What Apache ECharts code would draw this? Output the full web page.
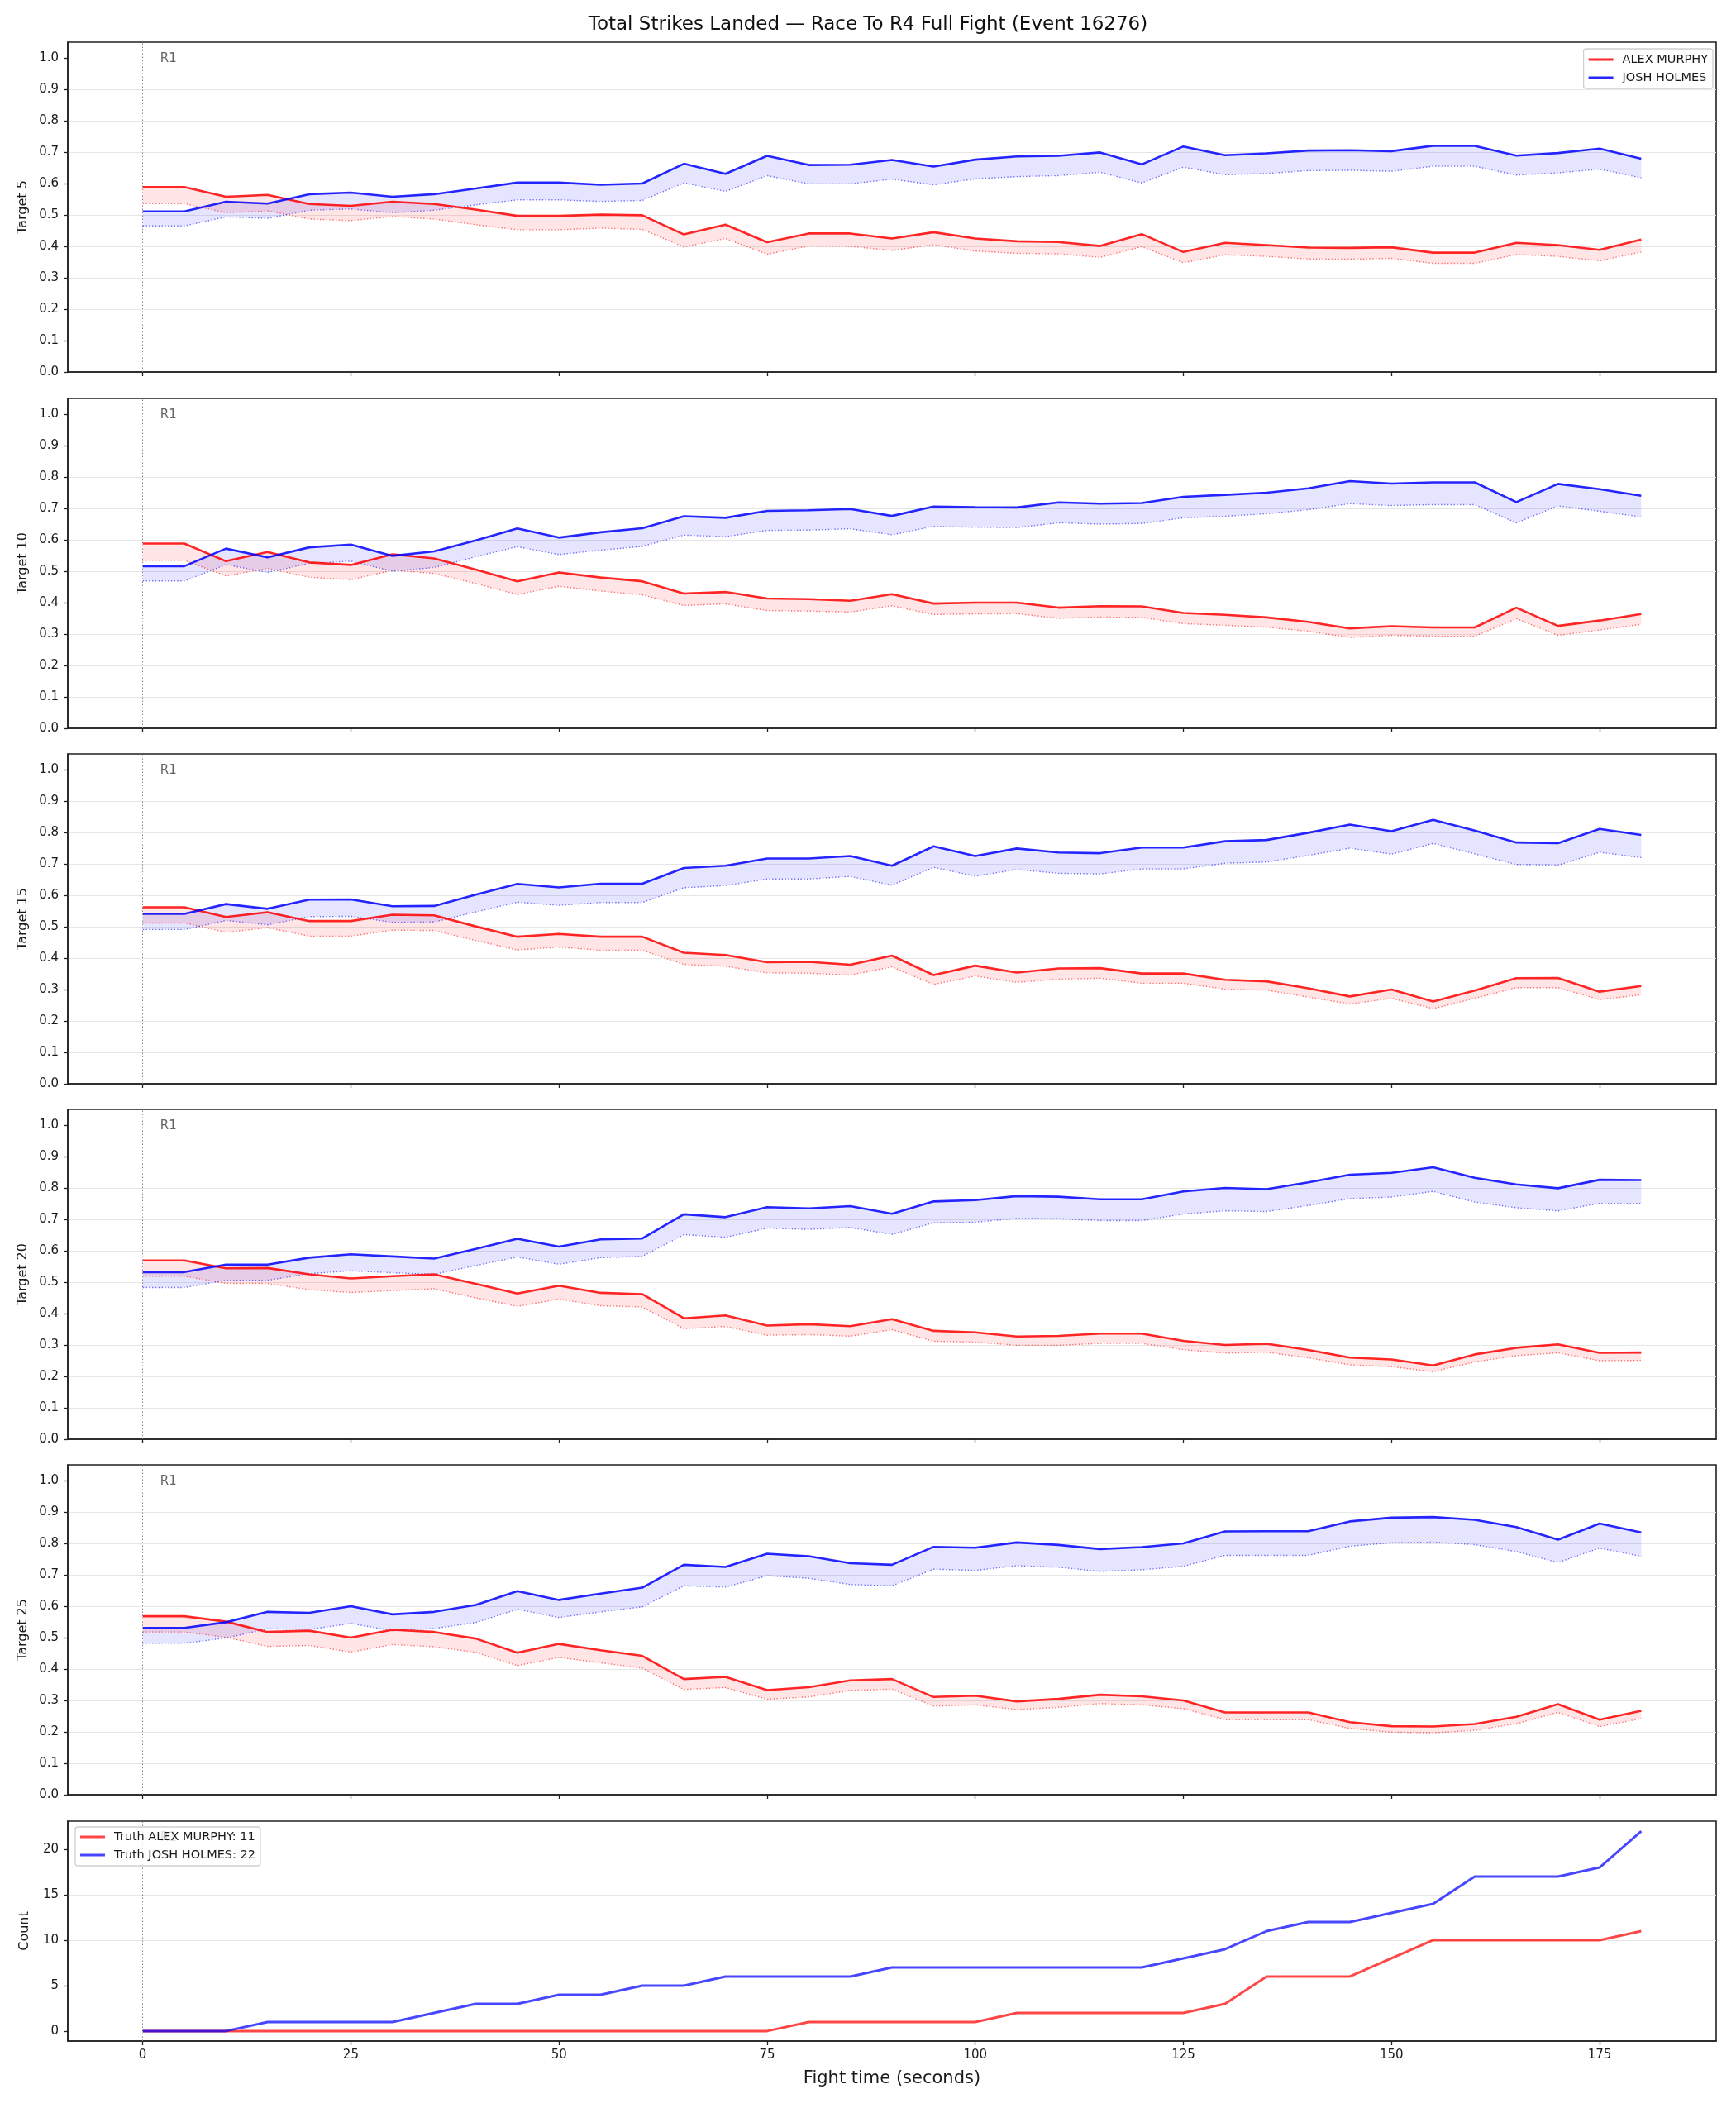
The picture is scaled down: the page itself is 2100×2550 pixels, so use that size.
<!DOCTYPE html>
<html>
<head>
<meta charset="utf-8">
<title>Total Strikes Landed</title>
<script src="https://cdn.jsdelivr.net/npm/echarts@6/dist/echarts.min.js"></script>
<style>
  html, body { margin: 0; padding: 0; background: #fff; }
  #main { width: 2100px; height: 2550px; }
</style>
</head>
<body>
<div id="main"></div>
<script>
// fight time axis (seconds), one sample every 5 s
var times = [0,5,10,15,20,25,30,35,40,45,50,55,60,65,70,75,80,85,90,95,100,105,110,115,120,125,130,135,140,145,150,155,160,165,170,175,180];
var xTicks = [0,25,50,75,100,125,150,175];
var probTicks = [0,0.1,0.2,0.3,0.4,0.5,0.6,0.7,0.8,0.9,1.0];
var countTicks = [0,5,10,15,20];
var roundStarts = [0];
var roundNames = ['R1'];

// Target 5
var t5MurphyMean = [0.589,0.589,0.558,0.564,0.535,0.529,0.542,0.535,0.517,0.497,0.497,0.501,0.499,0.438,0.469,0.413,0.441,0.441,0.425,0.445,0.425,0.416,0.414,0.401,0.439,0.382,0.411,0.404,0.396,0.395,0.397,0.380,0.380,0.411,0.404,0.389,0.422];
var t5MurphyLow  = [0.536,0.536,0.507,0.513,0.487,0.482,0.495,0.487,0.469,0.453,0.453,0.458,0.454,0.398,0.425,0.375,0.401,0.400,0.387,0.405,0.385,0.378,0.376,0.365,0.399,0.348,0.373,0.368,0.360,0.359,0.362,0.346,0.346,0.374,0.368,0.354,0.382];
var t5HolmesMean = [0.511,0.511,0.542,0.536,0.566,0.571,0.558,0.566,0.584,0.603,0.603,0.596,0.600,0.663,0.631,0.688,0.659,0.660,0.675,0.654,0.676,0.686,0.688,0.699,0.661,0.718,0.690,0.696,0.705,0.706,0.703,0.720,0.720,0.689,0.697,0.711,0.679];
var t5HolmesLow  = [0.465,0.465,0.494,0.489,0.515,0.519,0.507,0.515,0.532,0.548,0.548,0.543,0.546,0.602,0.575,0.625,0.599,0.599,0.614,0.596,0.615,0.622,0.625,0.636,0.602,0.652,0.628,0.632,0.641,0.642,0.639,0.655,0.655,0.627,0.634,0.646,0.618];

// Target 10
var t10MurphyMean = [0.588,0.588,0.532,0.561,0.528,0.520,0.554,0.541,0.505,0.468,0.496,0.480,0.468,0.429,0.434,0.413,0.411,0.406,0.427,0.397,0.400,0.400,0.384,0.389,0.388,0.367,0.361,0.353,0.339,0.318,0.325,0.321,0.321,0.384,0.326,0.343,0.364];
var t10MurphyLow  = [0.535,0.535,0.485,0.509,0.481,0.473,0.503,0.493,0.461,0.426,0.452,0.437,0.425,0.391,0.396,0.375,0.373,0.370,0.390,0.362,0.364,0.365,0.350,0.354,0.353,0.333,0.328,0.322,0.309,0.289,0.296,0.293,0.293,0.349,0.296,0.313,0.331];
var t10HolmesMean = [0.516,0.516,0.572,0.544,0.576,0.585,0.549,0.563,0.598,0.636,0.607,0.624,0.637,0.675,0.670,0.692,0.694,0.698,0.676,0.706,0.704,0.703,0.719,0.715,0.717,0.737,0.743,0.750,0.764,0.787,0.779,0.783,0.783,0.720,0.778,0.761,0.740];
var t10HolmesLow  = [0.469,0.469,0.521,0.496,0.525,0.532,0.500,0.512,0.546,0.578,0.553,0.567,0.579,0.615,0.610,0.630,0.631,0.635,0.616,0.643,0.640,0.639,0.654,0.650,0.652,0.670,0.675,0.683,0.696,0.715,0.709,0.712,0.712,0.654,0.708,0.691,0.673];

// Target 15
var t15MurphyMean = [0.562,0.562,0.531,0.546,0.518,0.518,0.538,0.536,0.501,0.468,0.477,0.468,0.468,0.417,0.410,0.387,0.388,0.379,0.408,0.346,0.376,0.354,0.367,0.368,0.351,0.351,0.331,0.326,0.304,0.278,0.300,0.262,0.297,0.336,0.337,0.293,0.311];
var t15MurphyLow  = [0.512,0.512,0.482,0.497,0.470,0.470,0.489,0.488,0.456,0.426,0.435,0.425,0.425,0.380,0.374,0.353,0.352,0.346,0.372,0.316,0.343,0.323,0.333,0.336,0.320,0.320,0.301,0.298,0.276,0.254,0.272,0.239,0.272,0.306,0.306,0.268,0.283];
var t15HolmesMean = [0.541,0.541,0.572,0.557,0.586,0.587,0.565,0.566,0.602,0.636,0.625,0.637,0.637,0.687,0.694,0.717,0.717,0.725,0.694,0.756,0.725,0.749,0.736,0.734,0.752,0.752,0.772,0.776,0.799,0.825,0.804,0.840,0.806,0.768,0.766,0.811,0.792];
var t15HolmesLow  = [0.491,0.491,0.520,0.506,0.532,0.533,0.514,0.515,0.547,0.578,0.568,0.577,0.577,0.624,0.631,0.652,0.652,0.660,0.632,0.689,0.661,0.682,0.670,0.668,0.684,0.684,0.702,0.706,0.727,0.750,0.731,0.765,0.732,0.698,0.696,0.737,0.720];

// Target 20
var t20MurphyMean = [0.569,0.569,0.544,0.545,0.525,0.512,0.519,0.525,0.495,0.464,0.489,0.466,0.462,0.385,0.394,0.362,0.366,0.360,0.382,0.345,0.340,0.327,0.329,0.336,0.336,0.313,0.300,0.304,0.284,0.260,0.254,0.235,0.270,0.291,0.302,0.275,0.276];
var t20MurphyLow  = [0.519,0.519,0.496,0.496,0.476,0.467,0.473,0.479,0.450,0.423,0.446,0.425,0.421,0.352,0.359,0.331,0.333,0.328,0.349,0.312,0.309,0.299,0.299,0.305,0.305,0.285,0.274,0.277,0.259,0.237,0.231,0.215,0.246,0.266,0.275,0.250,0.251];
var t20HolmesMean = [0.532,0.532,0.556,0.556,0.578,0.589,0.582,0.575,0.606,0.638,0.613,0.636,0.639,0.716,0.707,0.739,0.735,0.742,0.718,0.757,0.761,0.774,0.772,0.764,0.764,0.789,0.800,0.796,0.818,0.842,0.848,0.866,0.832,0.811,0.799,0.826,0.825];
var t20HolmesLow  = [0.483,0.483,0.506,0.506,0.527,0.536,0.530,0.525,0.553,0.580,0.557,0.578,0.582,0.651,0.643,0.672,0.668,0.674,0.652,0.689,0.691,0.703,0.702,0.696,0.696,0.717,0.727,0.725,0.744,0.766,0.771,0.789,0.755,0.737,0.727,0.751,0.751];

// Target 25
var t25MurphyMean = [0.568,0.568,0.551,0.518,0.522,0.500,0.525,0.518,0.497,0.452,0.480,0.460,0.442,0.368,0.375,0.333,0.342,0.364,0.368,0.311,0.315,0.297,0.305,0.318,0.313,0.300,0.262,0.262,0.262,0.231,0.218,0.217,0.225,0.248,0.288,0.239,0.267];
var t25MurphyLow  = [0.518,0.518,0.501,0.472,0.475,0.454,0.478,0.471,0.453,0.411,0.437,0.420,0.403,0.335,0.341,0.304,0.311,0.332,0.336,0.282,0.286,0.271,0.278,0.290,0.286,0.274,0.239,0.239,0.239,0.211,0.199,0.197,0.205,0.226,0.262,0.217,0.242];
var t25HolmesMean = [0.531,0.531,0.549,0.582,0.579,0.600,0.574,0.582,0.604,0.648,0.620,0.640,0.659,0.732,0.725,0.767,0.759,0.737,0.732,0.789,0.786,0.803,0.795,0.782,0.788,0.800,0.838,0.839,0.839,0.870,0.882,0.884,0.875,0.852,0.812,0.863,0.835];
var t25HolmesLow  = [0.482,0.482,0.499,0.528,0.526,0.545,0.522,0.529,0.548,0.590,0.564,0.582,0.598,0.665,0.661,0.697,0.689,0.669,0.665,0.718,0.714,0.729,0.724,0.711,0.716,0.727,0.762,0.762,0.762,0.791,0.802,0.804,0.796,0.774,0.739,0.785,0.759];

// truth: cumulative landed strikes
var truthMurphy = [0,0,0,0,0,0,0,0,0,0,0,0,0,0,0,0,1,1,1,1,1,2,2,2,2,2,3,6,6,6,8,10,10,10,10,10,11];
var truthHolmes = [0,0,0,1,1,1,1,2,3,3,4,4,5,5,6,6,6,6,7,7,7,7,7,7,7,8,9,11,12,12,13,14,17,17,17,18,22];

var panels = [
  { label: 'Target 5',  murphy: [t5MurphyMean, t5MurphyLow],   holmes: [t5HolmesMean, t5HolmesLow] },
  { label: 'Target 10', murphy: [t10MurphyMean, t10MurphyLow], holmes: [t10HolmesMean, t10HolmesLow] },
  { label: 'Target 15', murphy: [t15MurphyMean, t15MurphyLow], holmes: [t15HolmesMean, t15HolmesLow] },
  { label: 'Target 20', murphy: [t20MurphyMean, t20MurphyLow], holmes: [t20HolmesMean, t20HolmesLow] },
  { label: 'Target 25', murphy: [t25MurphyMean, t25MurphyLow], holmes: [t25HolmesMean, t25HolmesLow] }
];

var RED = 'rgba(255,0,0,0.85)', BLUE = 'rgba(0,0,255,0.85)';
var RED_DOT = 'rgba(255,0,0,0.55)', BLUE_DOT = 'rgba(0,0,255,0.55)';
var RED_FILL = 'rgba(255,0,0,0.1)', BLUE_FILL = 'rgba(0,0,255,0.1)';
var INK = '#1a1a1a';
var FONT = 'DejaVu Sans';

var gridLeft = 82, gridRight = 24;
var panelTops = [51, 482, 912, 1342, 1772], panelHeight = 399;
var countTop = 2203, countHeight = 266;
var xMin = -9, xMax = 189;
var probMax = 1.05, countMin = -1.1, countMax = 23.1;

function pairs(arr) {
  return times.map(function (t, k) { return [t, arr[k]]; });
}

// filled band between the mean line and the lower dotted line
function band(name, gi, hi, lo, color) {
  return {
    name: name, type: 'custom', xAxisIndex: gi, yAxisIndex: gi, silent: true, z: 1,
    data: times.map(function (t, k) { return [t, hi[k], lo[k]]; }),
    encode: { x: 0, y: [1, 2] },
    renderItem: function (params, api) {
      if (params.dataIndex !== 0) return;
      var top = [], bottom = [];
      for (var k = 0; k < times.length; k++) {
        top.push(api.coord([times[k], hi[k]]));
        bottom.unshift(api.coord([times[k], lo[k]]));
      }
      return { type: 'polygon', shape: { points: top.concat(bottom) }, style: { fill: color } };
    }
  };
}

function line(name, gi, arr, color, width, dotted, z) {
  return {
    name: name, type: 'line', xAxisIndex: gi, yAxisIndex: gi, data: pairs(arr),
    showSymbol: false, symbol: 'none', z: z, silent: true,
    itemStyle: { color: color },
    lineStyle: { color: color, width: width, type: dotted ? [1.4, 2.4] : 'solid' }
  };
}

// round marker: dotted vertical line + "R1" text
function roundMarks(s, labelY) {
  s.markLine = {
    silent: true, symbol: ['none', 'none'], label: { show: false },
    lineStyle: { color: '#888', width: 1, type: [1.5, 2.5] },
    data: roundStarts.map(function (r) { return { xAxis: r }; })
  };
  s.markPoint = {
    silent: true,
    data: roundStarts.map(function (r, k) {
      return {
        coord: [r + 2, labelY], symbol: 'circle', symbolSize: 2,
        itemStyle: { color: 'rgba(0,0,0,0)' },
        label: { show: true, formatter: roundNames[k], position: 'right', distance: 0,
                 color: '#666', fontSize: 15, fontFamily: FONT }
      };
    })
  };
  return s;
}

var grids = [], xAxes = [], yAxes = [], series = [];

function addAxes(gi, top, height, isLast) {
  grids.push({ left: gridLeft, right: gridRight, top: top, height: height,
               show: true, borderColor: '#222', borderWidth: 1.6, backgroundColor: '#fff' });
  xAxes.push({
    gridIndex: gi, type: 'value', min: xMin, max: xMax,
    axisLine: { show: true, onZero: false, lineStyle: { color: '#222', width: 1.6 } },
    axisTick: { show: true, customValues: xTicks, length: 5, lineStyle: { color: '#222', width: 1.3 } },
    axisLabel: { show: isLast, customValues: xTicks, margin: 10, fontSize: 15, color: INK, fontFamily: FONT },
    splitLine: { show: false },
    name: isLast ? 'Fight time (seconds)' : '', nameLocation: 'middle', nameGap: 35,
    nameTextStyle: { fontSize: 21, color: INK, fontFamily: FONT }
  });
}

panels.forEach(function (p, i) {
  addAxes(i, panelTops[i], panelHeight, false);
  yAxes.push({
    gridIndex: i, type: 'value', min: 0, max: probMax, interval: 0.1,
    axisLine: { show: true, onZero: false, lineStyle: { color: '#222', width: 1.6 } },
    axisTick: { show: true, customValues: probTicks, length: 5, lineStyle: { color: '#222', width: 1.3 } },
    axisLabel: { customValues: probTicks, margin: 11, fontSize: 15, color: INK, fontFamily: FONT,
                 formatter: function (v) { return v.toFixed(1); } },
    splitLine: { show: true, showMinLine: false, showMaxLine: false, lineStyle: { color: '#e6e6e6', width: 1.2 } },
    name: p.label, nameLocation: 'middle', nameGap: 44, nameRotate: 90,
    nameTextStyle: { fontSize: 16, color: INK, fontFamily: FONT }
  });

  series.push(band('ALEX MURPHY band', i, p.murphy[0], p.murphy[1], RED_FILL));
  series.push(band('JOSH HOLMES band', i, p.holmes[0], p.holmes[1], BLUE_FILL));
  series.push(roundMarks(line('ALEX MURPHY low', i, p.murphy[1], RED_DOT, 1.4, true, 2), probMax * 0.95));
  series.push(line('JOSH HOLMES low', i, p.holmes[1], BLUE_DOT, 1.4, true, 2));
  series.push(line('ALEX MURPHY', i, p.murphy[0], RED, 2.6, false, 3));
  series.push(line('JOSH HOLMES', i, p.holmes[0], BLUE, 2.6, false, 3));
});

// bottom panel: true counts
var ci = panels.length;
addAxes(ci, countTop, countHeight, true);
yAxes.push({
  gridIndex: ci, type: 'value', min: countMin, max: countMax,
  axisLine: { show: true, onZero: false, lineStyle: { color: '#222', width: 1.6 } },
  axisTick: { show: true, customValues: countTicks, length: 5, lineStyle: { color: '#222', width: 1.3 } },
  axisLabel: { customValues: countTicks, margin: 11, fontSize: 15, color: INK, fontFamily: FONT },
  splitLine: { show: true, showMinLine: false, showMaxLine: false, lineStyle: { color: '#e6e6e6', width: 1.2 } },
  name: 'Count', nameLocation: 'middle', nameGap: 44, nameRotate: 90,
  nameTextStyle: { fontSize: 16, color: INK, fontFamily: FONT }
});
series.push(roundMarks(line('Truth ALEX MURPHY: 11', ci, truthMurphy, 'rgba(255,0,0,0.72)', 3, false, 3), countMax * 0.92));
series.push(line('Truth JOSH HOLMES: 22', ci, truthHolmes, 'rgba(0,0,255,0.72)', 3, false, 3));

var legendBase = {
  orient: 'vertical', icon: 'rect', itemWidth: 30, itemHeight: 3, itemGap: 6,
  selectedMode: false, backgroundColor: 'rgba(255,255,255,0.8)',
  borderColor: '#d0d0d0', borderWidth: 1.3, borderRadius: 3, z: 10,
  textStyle: { fontSize: 14.5, lineHeight: 16, color: INK, fontFamily: FONT, padding: [0, 0, 0, 6] }
};

var option = {
  animation: false,
  backgroundColor: '#fff',
  textStyle: { fontFamily: FONT },
  title: {
    text: 'Total Strikes Landed \u2014 Race To R4 Full Fight (Event 16276)',
    left: 'center', top: 19, padding: 0,
    textStyle: { fontSize: 23, fontWeight: 'normal', color: '#111', fontFamily: FONT }
  },
  legend: [
    Object.assign({}, legendBase, { data: ['ALEX MURPHY', 'JOSH HOLMES'], right: 28, top: 59, padding: [5, 6, 5, 6] }),
    Object.assign({}, legendBase, { data: ['Truth ALEX MURPHY: 11', 'Truth JOSH HOLMES: 22'], left: 91, top: 2210, padding: [4, 6, 5, 6] })
  ],
  grid: grids,
  xAxis: xAxes,
  yAxis: yAxes,
  series: series
};

var chart = echarts.init(document.getElementById('main'));
chart.setOption(option);
</script>
</body>
</html>
